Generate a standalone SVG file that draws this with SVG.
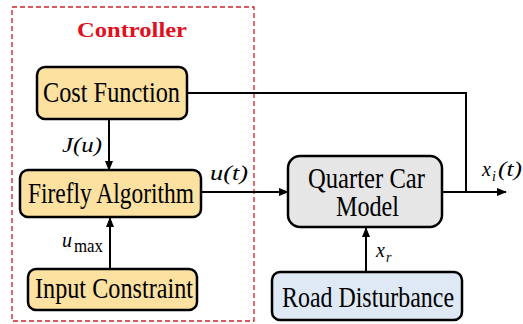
<svg xmlns="http://www.w3.org/2000/svg" width="523" height="324" viewBox="0 0 523 324">
<defs>
<marker id="ah" markerWidth="10" markerHeight="10" refX="9" refY="5" orient="auto" markerUnits="userSpaceOnUse">
<path d="M0,1 L10,5 L0,9 Z" fill="#000"/>
</marker>
</defs>
<rect width="523" height="324" fill="#fff"/>
<g id="controller">
<rect x="12" y="7" width="242" height="314" fill="none" stroke="#D0202A" stroke-width="1.3" stroke-dasharray="5,3"/>
<text x="132" y="37" font-family="Liberation Serif" font-weight="bold" font-size="22" fill="#E01020" text-anchor="middle" textLength="110" lengthAdjust="spacingAndGlyphs">Controller</text>
</g>
<g id="connectors" fill="none" stroke="#000" stroke-width="2">
<line x1="109" y1="119" x2="109" y2="170" marker-end="url(#ah)"/>
<line x1="110" y1="269" x2="110" y2="218" marker-end="url(#ah)"/>
<line x1="201" y1="192" x2="288" y2="192" marker-end="url(#ah)"/>
<polyline points="187,93 466,93 466,192"/>
<line x1="442" y1="192" x2="506" y2="192" marker-end="url(#ah)"/>
<line x1="366" y1="271" x2="366" y2="228" marker-end="url(#ah)"/>
</g>
<text x="62" y="152" font-family="Liberation Serif" font-style="italic" font-size="20" textLength="40" lengthAdjust="spacingAndGlyphs">J(u)</text>
<text x="62" y="247" font-family="Liberation Serif" font-style="italic" font-size="20">u</text>
<text x="74" y="252" font-family="Liberation Serif" font-size="18" textLength="29" lengthAdjust="spacingAndGlyphs">max</text>
<text x="210" y="180" font-family="Liberation Serif" font-style="italic" font-size="20" textLength="38" lengthAdjust="spacingAndGlyphs">u(t)</text>
<text x="482" y="176" font-family="Liberation Serif" font-style="italic" font-size="20">x</text>
<text x="492" y="181" font-family="Liberation Serif" font-style="italic" font-size="14">i</text>
<text x="498" y="176" font-family="Liberation Serif" font-style="italic" font-size="20" textLength="24" lengthAdjust="spacingAndGlyphs">(t)</text>
<text x="376" y="257" font-family="Liberation Serif" font-style="italic" font-size="20">x</text>
<text x="386" y="262" font-family="Liberation Serif" font-style="italic" font-size="14">r</text>
<g id="cost-function">
<rect x="37" y="67" width="150" height="52" rx="8" fill="#FCE1A0" stroke="#000" stroke-width="2.5"/>
<text x="43" y="102" font-family="Liberation Serif" font-size="30" textLength="137" lengthAdjust="spacingAndGlyphs">Cost Function</text>
</g>
<g id="firefly-algorithm">
<rect x="20" y="170" width="181" height="47" rx="8" fill="#FCE1A0" stroke="#000" stroke-width="2.5"/>
<text x="28" y="203" font-family="Liberation Serif" font-size="30" textLength="166" lengthAdjust="spacingAndGlyphs">Firefly Algorithm</text>
</g>
<g id="input-constraint">
<rect x="28" y="269" width="169" height="41" rx="8" fill="#FCE1A0" stroke="#000" stroke-width="2.5"/>
<text x="35" y="298" font-family="Liberation Serif" font-size="30" textLength="158" lengthAdjust="spacingAndGlyphs">Input Constraint</text>
</g>
<g id="quarter-car-model">
<rect x="288" y="156" width="154" height="71" rx="12" fill="#E6E6E6" stroke="#000" stroke-width="2.5"/>
<text x="308" y="188" font-family="Liberation Serif" font-size="30" textLength="117" lengthAdjust="spacingAndGlyphs">Quarter Car</text>
<text x="336" y="216" font-family="Liberation Serif" font-size="30" textLength="63" lengthAdjust="spacingAndGlyphs">Model</text>
</g>
<g id="road-disturbance">
<rect x="272" y="272" width="190" height="48" rx="8" fill="#DEE9F5" stroke="#000" stroke-width="2.5"/>
<text x="282" y="307" font-family="Liberation Serif" font-size="30" textLength="172" lengthAdjust="spacingAndGlyphs">Road Disturbance</text>
</g>
</svg>
